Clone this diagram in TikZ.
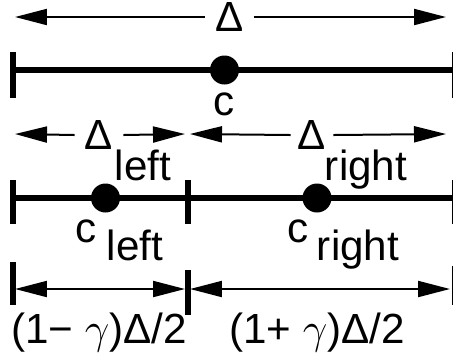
\documentclass[tikz,border=0pt]{standalone}
\usepackage{fontspec}
\setmainfont{Liberation Sans}
\usetikzlibrary{arrows.meta, positioning}

\begin{document}
\begin{tikzpicture}[x=0.02cm, y=-0.02cm,
    seg/.style={line width=0.11cm},
    tickmark/.style={line width=0.12cm},
    dimarr/.style={-{Triangle[length=0.64cm, width=0.32cm]}, line width=0.04cm},
    dimboth/.style={{Triangle[length=0.64cm, width=0.32cm]}-{Triangle[length=0.64cm, width=0.32cm]}, line width=0.04cm},
    dot/.style={circle, fill=black, inner sep=0pt, minimum size=0.58cm},
    lab/.style={font=\fontsize{24}{28}\selectfont, inner sep=0pt}
]
\useasboundingbox (0,0) rectangle (453,360);

% whole interval
\node[lab, inner xsep=0.2cm] (delta) at (229.5,17) {Δ};
\coordinate (dL) at (15,17);
\coordinate (dR) at (446,17);
\draw[dimarr] (delta.west) -- (dL);
\draw[dimarr] (delta.east) -- (dR);

\coordinate (aL) at (13,70);
\coordinate (aR) at (455,70);
\draw[seg] (aL) -- (aR);
\draw[tickmark] (13,52) -- (13,98);
\draw[tickmark] (455,52) -- (455,98);
\node[dot] (c) at (224.5,70) {};
\node[lab, anchor=base] (clab) at (224.5,115) {c};

% split into two halves
\node[lab, inner xsep=0.2cm] (dleft) at (99,135) {Δ};
\node[lab, anchor=base] (dleftsub) at (143,180) {left};
\coordinate (lL) at (15,134);
\coordinate (lR) at (185,134);
\draw[dimarr] (dleft.west) -- (lL);
\draw[dimarr] (dleft.east) -- (lR);

\node[lab, inner xsep=0.14cm] (dright) at (312,135) {Δ};
\node[lab, anchor=base] (drightsub) at (366,180) {right};
\coordinate (rL) at (190,134);
\coordinate (rR) at (446,134);
\draw[dimarr] (dright.west) -- (rL);
\draw[dimarr] (dright.east) -- (rR);

\coordinate (bL) at (13,198);
\coordinate (bR) at (455,198);
\draw[seg] (bL) -- (bR);
\draw[tickmark] (13,180) -- (13,224);
\draw[tickmark] (188,180) -- (188,224);
\draw[tickmark] (455,180) -- (455,224);
\node[dot] (cleft) at (105.5,198) {};
\node[dot] (cright) at (317,198) {};
\node[lab, anchor=base] (cllab) at (86.5,242) {c};
\node[lab, anchor=base] (cllabsub) at (135,260) {left};
\node[lab, anchor=base] (crlab) at (298.5,242) {c};
\node[lab, anchor=base] (crlabsub) at (358,260) {right};

% interval widths
\draw[tickmark] (13,262) -- (13,305);
\draw[tickmark] (188,270) -- (188,315);
\draw[tickmark] (455,266) -- (455,305);
\coordinate (wL) at (15,289);
\coordinate (wmL) at (185,289);
\coordinate (wmR) at (190,289);
\coordinate (wR) at (450,289);
\draw[dimboth] (wL) -- (wmL);
\draw[dimboth] (wmR) -- (wR);
\node[lab, anchor=base] (wleft) at (99,343) {(1− $\gamma$)Δ/2};
\node[lab, anchor=base] (wright) at (317,343) {(1+ $\gamma$)Δ/2};
\end{tikzpicture}
\end{document}
